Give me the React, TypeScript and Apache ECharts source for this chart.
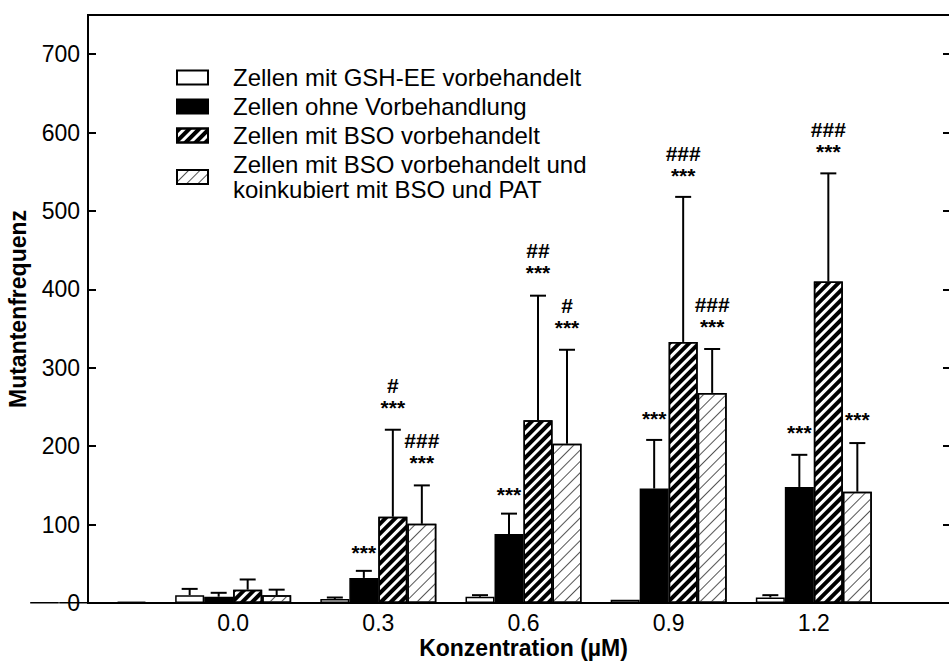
import React, { useEffect, useRef } from 'react';
import * as echarts from 'echarts';

const categories = ['', '0.0', '0.3', '0.6', '0.9', '1.2', ''];
const seriesNames = [
  'Zellen mit GSH-EE vorbehandelt',
  'Zellen ohne Vorbehandlung',
  'Zellen mit BSO vorbehandelt',
  'Zellen mit BSO vorbehandelt und\nkoinkubiert mit BSO und PAT',
];
const gshValues = [0.5, 10, 5, 8, 4, 7, null];
const gshErrors = [0, 8, 2, 2, 0, 3, null];
const ohneValues = [0.5, 8, 32, 88, 146, 148, null];
const ohneErrors = [0, 5, 9, 26, 62, 41, null];
const bsoValues = [0.5, 17, 110, 233, 333, 410, null];
const bsoErrors = [0, 13, 111, 159, 185, 138, null];
const patValues = [1.5, 10, 101, 203, 268, 142, null];
const patErrors = [0, 7, 49, 120, 56, 62, null];

// significance marks: [category index, bar index, height of the *** mark, # text above it]
const sigMarks: [number, number, number, string][] = [
  [2, 1, 69, ''], [2, 2, 254, '#'], [2, 3, 184, '###'],
  [3, 1, 144, ''], [3, 2, 427, '##'], [3, 3, 356, '#'],
  [4, 1, 241, ''], [4, 2, 550, '###'], [4, 3, 358, '###'],
  [5, 1, 223, ''], [5, 2, 581, '###'], [5, 3, 239, ''],
];

const FONT = 'Liberation Sans, Arial, Helvetica, sans-serif';
const BAR_W = 29;
const OFFSETS = [-1.5 * BAR_W, -0.5 * BAR_W, 0.5 * BAR_W, 1.5 * BAR_W];

const denseHatch = {
  symbol: 'rect', symbolSize: 1, color: '#000', backgroundColor: '#fff',
  dashArrayX: [1, 0], dashArrayY: [4, 3], rotation: -Math.PI / 4,
};
const lightHatch = {
  symbol: 'rect', symbolSize: 1, color: '#555', backgroundColor: '#fff',
  dashArrayX: [1, 0], dashArrayY: [1, 7], rotation: -Math.PI / 4,
};

function errorSeries(values: (number | null)[], errors: (number | null)[], k: number) {
  const data = values
    .map((v, i) => (v == null ? null : [i, v, errors[i] ?? 0]))
    .filter((d) => d !== null);
  return {
    type: 'custom',
    clip: true,
    z: 3,
    silent: true,
    data,
    renderItem: (_p: any, api: any) => {
      const cat = api.value(0);
      const v = api.value(1);
      const e = api.value(2);
      if (!e) return { type: 'group', children: [] };
      const base = api.coord([cat, v]);
      const top = api.coord([cat, v + e]);
      const x = base[0] + OFFSETS[k];
      const st = { stroke: '#000', lineWidth: 2 };
      return {
        type: 'group',
        children: [
          { type: 'line', shape: { x1: x, y1: base[1], x2: x, y2: top[1] }, style: st },
          { type: 'line', shape: { x1: x - 8, y1: top[1], x2: x + 8, y2: top[1] }, style: st },
        ],
      };
    },
  };
}

function markSeries() {
  return {
    type: 'custom',
    clip: false,
    z: 4,
    silent: true,
    data: sigMarks.map((m) => [m[0], m[2]]),
    renderItem: (params: any, api: any) => {
      const m = sigMarks[params.dataIndex];
      const p = api.coord([api.value(0), api.value(1)]);
      return {
        type: 'text',
        x: p[0] + OFFSETS[m[1]],
        y: p[1] + 15,
        style: {
          text: m[3] ? `${m[3]}\n***` : '***',
          fontSize: 21,
          lineHeight: 22,
          fontWeight: 'bold',
          fontFamily: FONT,
          fill: '#000',
          align: 'center',
          verticalAlign: 'bottom',
        },
      };
    },
  };
}

export default function App() {
  const ref = useRef<HTMLDivElement>(null);
  useEffect(() => {
    if (!ref.current) return;
    const chart = echarts.init(ref.current, undefined, { renderer: 'svg' });
    const barBase = {
      type: 'bar',
      barWidth: BAR_W,
      barGap: '0%',
      z: 2,
    };
    chart.setOption({
      animation: false,
      backgroundColor: '#fff',
      grid: {
        left: 88, width: 871, top: 15, bottom: 59,
        outerBoundsMode: 'none',
        containLabel: false,
        show: true, borderColor: '#000', borderWidth: 2,
      },
      legend: {
        orient: 'vertical',
        left: 171,
        top: 60,
        icon: 'rect',
        itemWidth: 31,
        itemHeight: 14,
        itemGap: 4,
        selectedMode: false,
        data: seriesNames,
        itemStyle: { borderWidth: 2, borderColor: '#000' },
        textStyle: { fontSize: 24, color: '#000', fontFamily: FONT, lineHeight: 25, padding: [0, 0, 0, 20] },
      },
      xAxis: {
        type: 'category',
        data: categories,
        boundaryGap: false,
        axisLine: { lineStyle: { color: '#000', width: 2 } },
        axisTick: { show: false },
        axisLabel: { color: '#000', fontSize: 23, lineHeight: 22, fontFamily: FONT, margin: 9 },
        name: 'Konzentration (\u00b5M)',
        nameLocation: 'middle',
        nameGap: 33,
        nameMoveOverlap: false,
        nameTextStyle: { color: '#000', fontSize: 23, fontWeight: 'bold', fontFamily: FONT, lineHeight: 23 },
      },
      yAxis: [
        {
          type: 'value', min: 0, max: 750, interval: 100,
          splitLine: { show: false },
          axisLine: { show: true, lineStyle: { color: '#000', width: 2 } },
          axisTick: { show: true, inside: true, length: 8, lineStyle: { color: '#000', width: 2 } },
          axisLabel: {
            color: '#000', fontSize: 23, fontFamily: FONT, margin: 8,
            formatter: (v: number) => (v > 700 ? '' : String(v)),
          },
          name: 'Mutantenfrequenz',
          nameLocation: 'middle',
          nameGap: 59,
          nameMoveOverlap: false,
          nameTextStyle: { color: '#000', fontSize: 23, fontWeight: 'bold', fontFamily: FONT },
        },
        {
          type: 'value', min: 0, max: 750, interval: 100, position: 'right',
          splitLine: { show: false },
          axisLine: { show: false },
          axisTick: { show: true, inside: true, length: 16, lineStyle: { color: '#000', width: 2 } },
          axisLabel: { show: false },
        },
      ],
      series: [
        { ...barBase, name: seriesNames[0], data: gshValues, itemStyle: { color: '#fff', borderColor: '#000', borderWidth: 1.5 } },
        { ...barBase, name: seriesNames[1], data: ohneValues, itemStyle: { color: '#000', borderColor: '#000', borderWidth: 1.5 } },
        { ...barBase, name: seriesNames[2], data: bsoValues, itemStyle: { color: '#fff', borderColor: '#000', borderWidth: 1.5, decal: denseHatch } },
        { ...barBase, name: seriesNames[3], data: patValues, itemStyle: { color: '#fff', borderColor: '#000', borderWidth: 1.5, decal: lightHatch } },
        errorSeries(gshValues, gshErrors, 0),
        errorSeries(ohneValues, ohneErrors, 1),
        errorSeries(bsoValues, bsoErrors, 2),
        errorSeries(patValues, patErrors, 3),
        markSeries(),
      ],
    });
    return () => chart.dispose();
  }, []);
  return (
    <div
      ref={ref}
      style={{ position: 'absolute', left: 0, top: 0, width: 949, height: 662, background: '#fff' }}
    />
  );
}
